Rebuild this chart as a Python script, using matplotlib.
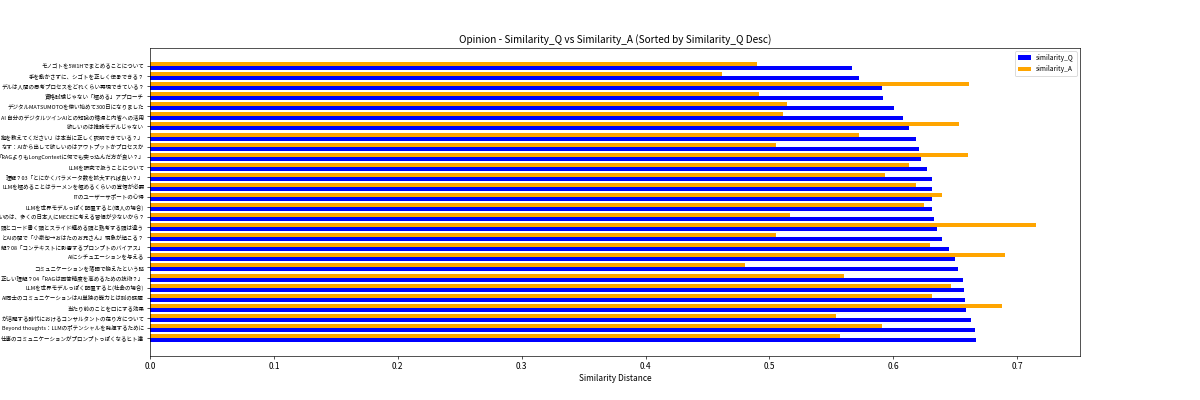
import matplotlib
matplotlib.use("Agg")
import matplotlib.pyplot as plt
import numpy as np

plt.rcParams['font.family'] = ['Noto Sans CJK JP', 'DejaVu Sans']

# Sorted by similarity_Q descending (index 0 drawn at bottom)
titles = [
    "仕事のコミュニケーションがプロンプトっぽくなるヒト達",
    "Beyond thoughts：LLMのポテンシャルを発揮するために",
    "が活躍する時代におけるコンサルタントの在り方について",
    "当たり前のことを口にする効果",
    "AI同士のコミュニケーションはAI単独の能力とは別の課題",
    "LLMを世界モデルっぽく配置すると(社会の場合)",
    "正しい理解？04「RAGは回答精度を高めるための技術？」",
    "コミュニケーションを落語で鍛えたという話",
    "AIにシチュエーションを与える",
    "解？08「コンテキストに影響するプロンプトのバイアス」",
    "とAIの間で「小泉句→おはたのお兄さん」現象が起こる？",
    "頭とコード書く頭とスライド纏める頭と熟考する頭は違う",
    "いのは、多くの日本人にMECEに考える習慣が少ないから？",
    "LLMを世界モデルっぽく配置すると(個人の場合)",
    "ITのユーザーサポートの心得",
    "LLMを極めることはラーメンを極めるくらいの覚悟が必要",
    "理解？03「とにかくパラメータ数を拡大すれば良い？」",
    "LLMを研究で扱うことについて",
    "「RAGよりもLongContextに何でも突っ込んだ方が良い？」",
    "なす：AIから出して欲しいのはアウトプットかプロセスか",
    "拠を教えてください」は本当に正しく説明できている？」",
    "欲しいのは推論モデルじゃない",
    "AI 自分のデジタルツインAIとの知識の循環と内省への活用",
    "デジタルMATSUMOTOを使い始めて300日になりました",
    "資格試験じゃない「極める」アプローチ",
    "デルは人間の思考プロセスをどれくらい再現できている？",
    "手を動かさずに、シゴトを正しく伝承できる？",
    "モノゴトを5W1Hでまとめることについて",
]

similarity_Q = [
    0.667, 0.666, 0.663, 0.659, 0.658, 0.657, 0.656, 0.652, 0.650, 0.645,
    0.639, 0.635, 0.633, 0.631, 0.631, 0.631, 0.631, 0.627, 0.622, 0.621,
    0.618, 0.613, 0.608, 0.601, 0.592, 0.591, 0.572, 0.567,
]

similarity_A = [
    0.557, 0.591, 0.554, 0.688, 0.631, 0.647, 0.560, 0.480, 0.690, 0.630,
    0.505, 0.715, 0.517, 0.625, 0.639, 0.618, 0.593, 0.613, 0.660, 0.505,
    0.572, 0.653, 0.511, 0.514, 0.492, 0.661, 0.462, 0.490,
]

fig, ax = plt.subplots(figsize=(20, 20 / 3), dpi=60)
y = np.arange(len(titles))
h = 0.4
ax.barh(y - h / 2, similarity_Q, height=h, color='blue', label='similarity_Q')
ax.barh(y + h / 2, similarity_A, height=h, color='orange', label='similarity_A')
ax.set_yticks(y)
ax.set_yticklabels(titles, fontsize=6.6)
ax.set_xlabel('Similarity Distance')
ax.set_title('Opinion - Similarity_Q vs Similarity_A (Sorted by Similarity_Q Desc)')
ax.legend(loc='upper right', fontsize=8)

fig.savefig('out.png', dpi=60)
